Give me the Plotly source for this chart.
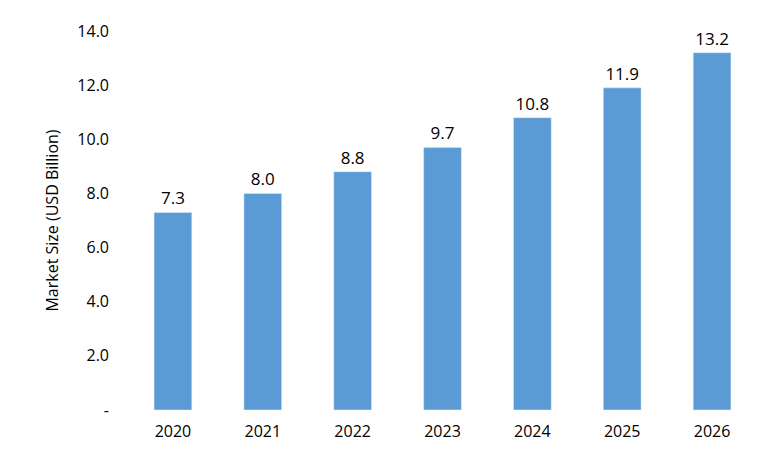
import plotly.graph_objects as go

years = ["2020", "2021", "2022", "2023", "2024", "2025", "2026"]
values = [7.3, 8.0, 8.8, 9.7, 10.8, 11.9, 13.2]
tick_vals = [0, 2, 4, 6, 8, 10, 12, 14]
tick_text = ["-", "2.0", "4.0", "6.0", "8.0", "10.0", "12.0", "14.0"]

fig = go.Figure(go.Bar(
    x=years, y=values, marker_color="#5B9BD5",
    text=[f"{v:.1f}" for v in values], textposition="outside",
    textfont=dict(size=17, color="#000"), cliponaxis=False,
))
fig.update_layout(
    width=780, height=465, margin=dict(l=120, r=31, t=16, b=63),
    plot_bgcolor="white", paper_bgcolor="white",
    font=dict(family="Open Sans, Liberation Sans, sans-serif", color="#000"),
    bargap=0.58, showlegend=False, uniformtext=dict(minsize=17),
)
fig.update_xaxes(tickfont=dict(size=16), showline=False, ticks="", ticklabelstandoff=10)
fig.update_yaxes(range=[0, 14], tickvals=tick_vals, ticktext=tick_text,
                 tickfont=dict(size=16), showgrid=False, zeroline=False,
                 ticklabelstandoff=18,
                 title=dict(text="Market Size (USD Billion)", font=dict(size=16), standoff=14))
fig.write_html("out.html")
